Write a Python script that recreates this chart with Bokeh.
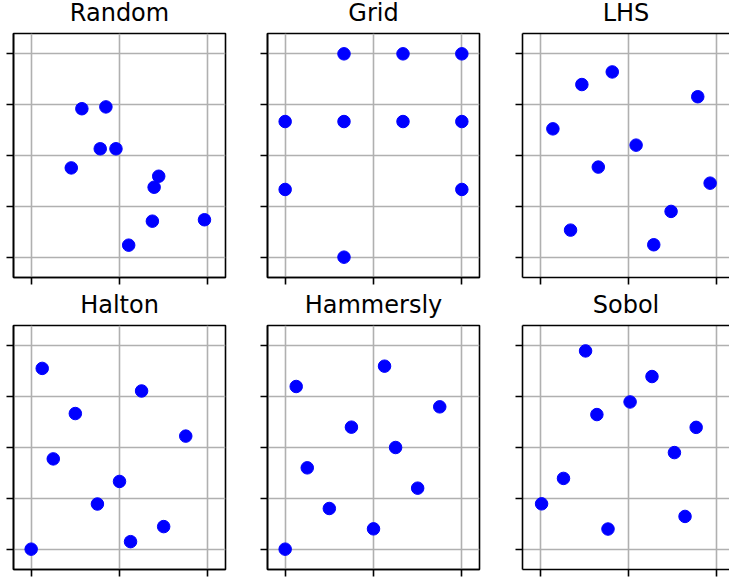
from bokeh.plotting import figure
from bokeh.layouts import row, column
from bokeh.models import FixedTicker, LinearAxis, Range1d, CustomJSTickFormatter
from bokeh.embed import file_html
from bokeh.resources import INLINE

# Ten samples per strategy, in the unit square
random_x = [0.287, 0.423, 0.391, 0.480, 0.227, 0.722, 0.696, 0.686, 0.981, 0.552]
random_y = [0.730, 0.739, 0.533, 0.533, 0.439, 0.398, 0.344, 0.177, 0.184, 0.059]

grid_x = [0.333, 0.667, 1.0, 0.0, 0.333, 0.667, 1.0, 0.0, 1.0, 0.333]
grid_y = [1.0, 1.0, 1.0, 0.667, 0.667, 0.667, 0.667, 0.333, 0.333, 0.0]

lhs_x = [0.236, 0.408, 0.892, 0.072, 0.543, 0.329, 0.962, 0.741, 0.172, 0.643]
lhs_y = [0.849, 0.911, 0.789, 0.631, 0.551, 0.443, 0.364, 0.225, 0.133, 0.061]

halton_x = [0.0, 0.5, 0.25, 0.75, 0.125, 0.625, 0.375, 0.875, 0.0625, 0.5625]
halton_y = [0.0, 0.333, 0.667, 0.111, 0.444, 0.778, 0.222, 0.556, 0.889, 0.037]

hammersly_x = [0.0, 0.5, 0.25, 0.75, 0.125, 0.625, 0.375, 0.875, 0.0625, 0.5625]
hammersly_y = [0.0, 0.1, 0.2, 0.3, 0.4, 0.5, 0.6, 0.7, 0.8, 0.9]

sobol_x = [0.257, 0.633, 0.509, 0.321, 0.883, 0.760, 0.132, 0.008, 0.820, 0.384]
sobol_y = [0.975, 0.849, 0.724, 0.662, 0.599, 0.475, 0.348, 0.223, 0.161, 0.099]

titles = ["Random", "Grid", "LHS", "Halton", "Hammersly", "Sobol"]
x_ticks = [0.0, 0.5, 1.0]
y_ticks = [0.0, 0.25, 0.5, 0.75, 1.0]

SPINE = 1.6
GRID_COLOR = "#b0b0b0"

# per-column / per-row border sizes (px)
COL_LEFT = [13, 21, 22]
COL_RIGHT = [21, 21, 0]
COL_FRAME = [212, 212, 207]
TOP_BORDER = 46
ROW_BOTTOM = [8, 9]
ROW_SHIFT = [-13, -6]   # rows pulled up so the title band overlaps the row above
FRAME_H = 244


def blank_formatter():
    return CustomJSTickFormatter(code="return ''")


def style_axis(ax, ticks):
    ax.ticker = FixedTicker(ticks=ticks)
    ax.formatter = blank_formatter()
    ax.major_label_text_font_size = "0px"
    ax.major_label_standoff = 0
    ax.major_tick_out = 7
    ax.major_tick_in = 0
    ax.minor_tick_out = 0
    ax.minor_tick_in = 0
    ax.minor_tick_line_color = None
    ax.major_tick_line_width = SPINE
    ax.major_tick_line_color = "black"
    ax.axis_line_width = SPINE
    ax.axis_line_color = "black"


def panel(title, xs, ys, col, r):
    fw = COL_FRAME[col]
    x_end = -0.1 + 1.2 * fw / 212
    p = figure(frame_width=fw, frame_height=FRAME_H,
               x_range=Range1d(-0.1, x_end), y_range=Range1d(-0.1, 1.1),
               min_border_left=COL_LEFT[col], min_border_right=COL_RIGHT[col],
               min_border_top=TOP_BORDER, min_border_bottom=ROW_BOTTOM[r],
               output_backend="svg", toolbar_location=None, title=title)
    p.background_fill_color = "white"
    p.border_fill_color = None
    style_axis(p.xaxis[0], x_ticks)
    style_axis(p.yaxis[0], y_ticks)
    p.grid.grid_line_color = GRID_COLOR
    p.grid.grid_line_width = SPINE

    if col < 2:
        p.outline_line_color = "black"
        p.outline_line_width = SPINE
        p.outline_line_alpha = 1.0
    else:
        # right edge runs off the page; top spine drawn as a bare axis
        p.outline_line_color = None
        top = LinearAxis(ticker=FixedTicker(ticks=[]), formatter=blank_formatter(),
                         major_label_text_font_size="0px", major_label_standoff=0,
                         major_tick_out=0, major_tick_in=0,
                         minor_tick_out=0, minor_tick_in=0,
                         major_tick_line_color=None, minor_tick_line_color=None,
                         axis_line_width=SPINE, axis_line_color="black")
        p.add_layout(top, "above")

    p.title.text_font = "DejaVu Sans"
    p.title.text_font_size = "24px"
    p.title.text_font_style = "normal"
    p.title.text_color = "black"
    p.title.align = "center"
    p.title.vertical_align = "bottom"
    p.title.standoff = 13

    p.scatter(xs, ys, size=12.5, fill_color="#0000ff", line_color="#0000ff", line_width=1)
    return p


data = [(random_x, random_y), (grid_x, grid_y), (lhs_x, lhs_y),
        (halton_x, halton_y), (hammersly_x, hammersly_y), (sobol_x, sobol_y)]

panels = [panel(titles[i], data[i][0], data[i][1], i % 3, i // 3) for i in range(6)]

rows = [row(*panels[3 * r:3 * r + 3], spacing=0, margin=(ROW_SHIFT[r], 0, 0, 0)) for r in range(2)]
layout = column(*rows, spacing=0)

open("out.html", "w").write(file_html(layout, INLINE))
